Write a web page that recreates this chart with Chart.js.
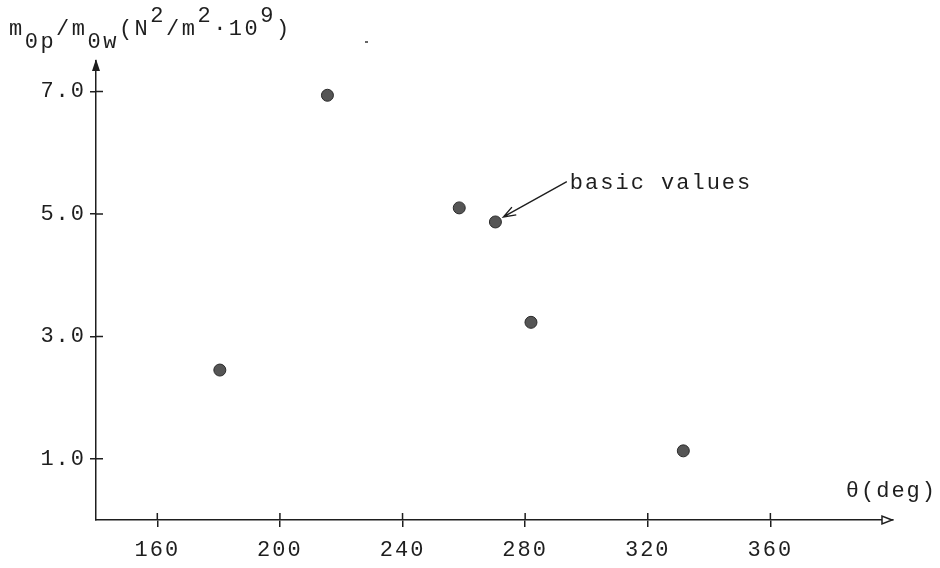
<!DOCTYPE html>
<html>
<head>
<meta charset="utf-8">
<script src="https://cdn.jsdelivr.net/npm/chart.js@4/dist/chart.umd.min.js"></script>
<style>
  html, body { margin: 0; padding: 0; background: #fff; }
  #wrap { width: 940px; height: 568px; }
</style>
</head>
<body>
<div id="wrap"><canvas id="grafico"></canvas></div>
<script>
// data
const thetaDeg = [180.4, 215.5, 258.5, 270.3, 281.9, 331.6];
const ratio = [2.45, 6.94, 5.10, 4.87, 3.23, 1.13];
const xTicks = [160, 200, 240, 280, 320, 360];
const yTicks = [1, 3, 5, 7];
const basicIndex = 3; // the "basic values" point

const ink = '#1e1e1e';
const mono = '"Liberation Mono", "DejaVu Sans Mono", monospace';

// ticks crossing the axis + arrows + labels
const decorations = {
  id: 'decorations',
  beforeDraw(chart) {
    // typewriter look for the tick labels
    chart.ctx.letterSpacing = '2px';
  },
  afterDraw(chart) {
    const ctx = chart.ctx;
    const area = chart.chartArea;
    const xs = chart.scales.x, ys = chart.scales.y;
    ctx.save();
    ctx.strokeStyle = ink;
    ctx.fillStyle = ink;
    ctx.lineWidth = 1.5;

    // inner half of the tick marks
    ctx.beginPath();
    xs.ticks.forEach(t => {
      const px = xs.getPixelForValue(t.value);
      ctx.moveTo(px, area.bottom);
      ctx.lineTo(px, area.bottom - 7);
    });
    ys.ticks.forEach(t => {
      const py = ys.getPixelForValue(t.value);
      ctx.moveTo(area.left, py);
      ctx.lineTo(area.left + 7, py);
    });
    ctx.stroke();

    // y axis arrow (filled)
    ctx.beginPath();
    ctx.moveTo(area.left, area.top - 2);
    ctx.lineTo(area.left - 4, area.top + 10);
    ctx.lineTo(area.left + 4, area.top + 10);
    ctx.closePath();
    ctx.fill();

    // x axis arrow (open)
    ctx.beginPath();
    ctx.moveTo(area.right - 1, area.bottom);
    ctx.lineTo(area.right - 11, area.bottom - 4);
    ctx.lineTo(area.right - 11, area.bottom + 4);
    ctx.closePath();
    ctx.fillStyle = '#fff';
    ctx.fill();
    ctx.stroke();
    ctx.fillStyle = ink;

    // y axis title with sub/superscripts
    ctx.font = '22px ' + mono;
    ctx.letterSpacing = '2.5px';
    ctx.textBaseline = 'alphabetic';
    ctx.textAlign = 'left';
    const parts = [
      ['m', 0], ['0p', 13], ['/', 0], ['m', 0], ['0w', 13], ['(N', 0], ['2', -13],
      ['/m', 0], ['2', -13], ['\u00b710', 0], ['9', -13], [')', 0]
    ];
    let tx = 9;
    const base = 35;
    parts.forEach(p => {
      ctx.fillText(p[0], tx, base + p[1]);
      tx += ctx.measureText(p[0]).width;
    });

    // x axis title
    ctx.font = '22px ' + mono;
    ctx.letterSpacing = '2px';
    ctx.textAlign = 'right';
    ctx.fillText('\u03b8(deg)', area.right + 44, 497);

    // "basic values" callout
    const bx = xs.getPixelForValue(thetaDeg[basicIndex]) + 8;
    const by = ys.getPixelForValue(ratio[basicIndex]) - 5;
    const sx = xs.getPixelForValue(293.6);
    const sy = ys.getPixelForValue(5.53);
    ctx.lineWidth = 1.4;
    ctx.beginPath();
    ctx.moveTo(sx, sy);
    ctx.lineTo(bx, by);
    const ang = Math.atan2(sy - by, sx - bx);
    ctx.moveTo(bx + 13 * Math.cos(ang - 0.35), by + 13 * Math.sin(ang - 0.35));
    ctx.lineTo(bx, by);
    ctx.lineTo(bx + 13 * Math.cos(ang + 0.35), by + 13 * Math.sin(ang + 0.35));
    ctx.stroke();
    ctx.textAlign = 'left';
    ctx.fillText('basic values', sx + 3, sy + 7);

    // stray speck near the top
    ctx.fillStyle = '#666';
    ctx.fillRect(365, 41, 3, 2);
    ctx.restore();
    ctx.letterSpacing = '0px';
  }
};

const ctx = document.getElementById('grafico').getContext('2d');

new Chart(ctx, {
  type: 'scatter',
  data: {
    datasets: [{
      data: thetaDeg.map((t, i) => ({ x: t, y: ratio[i] })),
      pointRadius: 6,
      pointBackgroundColor: '#555',
      pointBorderColor: '#2a2a2a',
      pointBorderWidth: 1
    }]
  },
  options: {
    responsive: true,
    maintainAspectRatio: false,
    animation: false,
    layout: { padding: { left: 0, top: 61, right: 47, bottom: 0 } },
    plugins: { legend: { display: false }, tooltip: { enabled: false } },
    scales: {
      x: {
        type: 'linear',
        min: 140,
        max: 400,
        afterBuildTicks: s => { s.ticks = xTicks.map(v => ({ value: v })); },
        afterFit: s => { s.height = 48; },
        grid: { drawOnChartArea: false, tickLength: 7, color: ink, lineWidth: 1.5 },
        border: { color: ink, width: 1.5 },
        ticks: {
          padding: 10,
          color: ink,
          font: { family: mono, size: 22 },
          callback: v => String(v)
        }
      },
      y: {
        min: 0,
        max: 7.5,
        afterBuildTicks: s => { s.ticks = yTicks.map(v => ({ value: v })); },
        afterFit: s => { s.width = 96; },
        grid: { drawOnChartArea: false, tickLength: 6, color: ink, lineWidth: 1.5 },
        border: { color: ink, width: 1.5 },
        ticks: {
          padding: 4,
          color: ink,
          font: { family: mono, size: 22 },
          callback: v => v.toFixed(1)
        }
      }
    }
  },
  plugins: [decorations]
});
</script>
</body>
</html>
